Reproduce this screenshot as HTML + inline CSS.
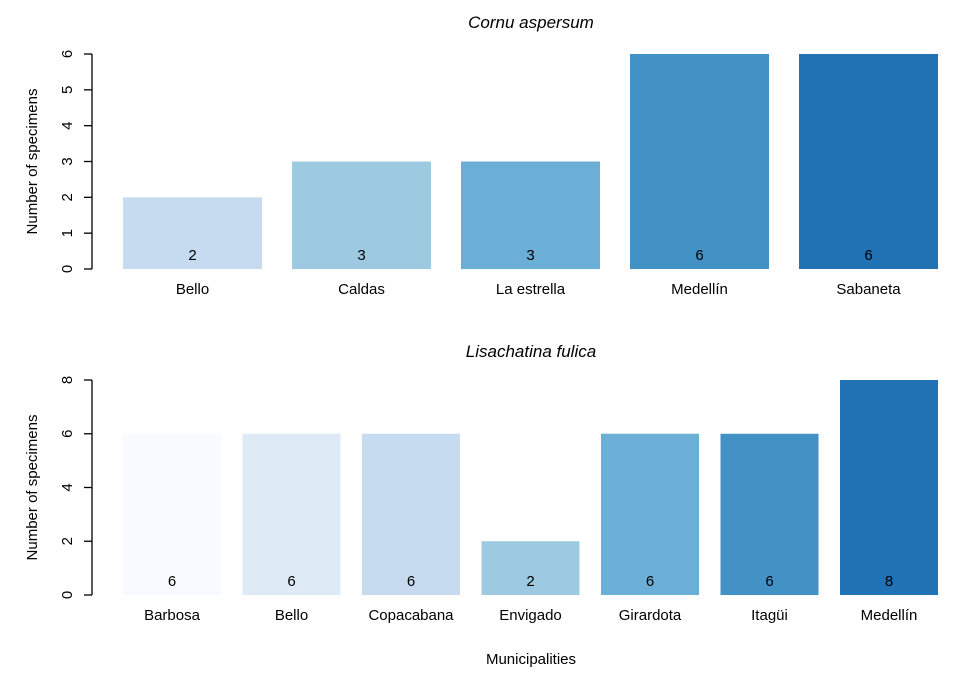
<!DOCTYPE html>
<html><head><meta charset="utf-8"><style>
body{margin:0;background:#fff;}
svg text{font-family:"Liberation Sans",Arial,sans-serif;fill:#000;}
</style></head><body>
<svg id="chart" width="969" height="678" xmlns="http://www.w3.org/2000/svg"></svg>
<script>
const topCategories=["Bello","Caldas","La estrella","Medellín","Sabaneta"];
const topValues=[2,3,3,6,6];
const topTicks=[0,1,2,3,4,5,6];
const botCategories=["Barbosa","Bello","Copacabana","Envigado","Girardota","Itagüi","Medellín"];
const botValues=[6,6,6,2,6,6,8];
const botTicks=[0,2,4,6,8];
const topColors=["#C6DBEF","#9ECAE1","#6BAED6","#4292C6","#2171B5"];
const botColors=["#F7FBFF","#DEEBF7","#C6DBEF","#9ECAE1","#6BAED6","#4292C6","#2171B5"];
const svg=document.getElementById('chart');
const NS="http://www.w3.org/2000/svg";
function mk(tag,attrs,txt){const e=document.createElementNS(NS,tag);for(const k in attrs)e.setAttribute(k,attrs[k]);if(txt!==undefined)e.textContent=txt;svg.appendChild(e);return e;}
function panel(cfg){
  const {cats,vals,ticks,colors,y0,yTop,maxV,x0,step,bw,title,titleY,prefix}=cfg;
  const y=v=>y0-(y0-yTop)*v/maxV;
  const t=mk('text',{x:531,y:titleY,'text-anchor':'middle','font-size':17,'font-style':'italic'},title);
  
  
  const ax=mk('line',{x1:92,x2:92,y1:y(ticks[0]),y2:y(ticks[ticks.length-1]),stroke:'#000','stroke-width':1.3});
  
  
  ticks.forEach(v=>{
    mk('line',{x1:84,x2:92,y1:y(v),y2:y(v),stroke:'#000','stroke-width':1.3});
    const tl=mk('text',{x:68,y:y(v),'text-anchor':'middle','font-size':15,transform:`rotate(-90 68 ${y(v)})`,'dominant-baseline':'middle'},String(v));
    
    
  });
  const yl=mk('text',{x:37,y:(y0+yTop)/2,'text-anchor':'middle','font-size':15,transform:`rotate(-90 37 ${(y0+yTop)/2})`},'Number of specimens');
  
  
  cats.forEach((c,i)=>{
    const x=x0+i*step;
    const r=mk('rect',{x:x,y:y(vals[i]),width:bw,height:y0-y(vals[i]),fill:colors[i]});
    
    
    const v=mk('text',{x:x+bw/2,y:y0-9,'text-anchor':'middle','font-size':15},String(vals[i]));
    
    
    const l=mk('text',{x:x+bw/2,y:y0+25,'text-anchor':'middle','font-size':15},c);
    
    
  });
}
panel({cats:topCategories,vals:topValues,ticks:topTicks,colors:topColors,y0:269,yTop:54,maxV:6,x0:123,step:169,bw:139,title:'Cornu aspersum',titleY:28,prefix:'top'});
panel({cats:botCategories,vals:botValues,ticks:botTicks,colors:botColors,y0:595,yTop:380,maxV:8,x0:123,step:119.5,bw:98,title:'Lisachatina fulica',titleY:357,prefix:'bottom'});
const xt=mk('text',{x:531,y:664,'text-anchor':'middle','font-size':15},'Municipalities');


</script>
</body></html>
